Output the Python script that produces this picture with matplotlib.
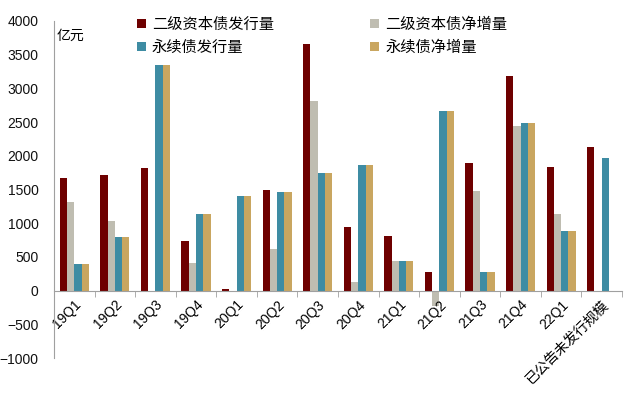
import matplotlib
matplotlib.use("Agg")
import matplotlib.pyplot as plt
import numpy as np

categories = ["19Q1", "19Q2", "19Q3", "19Q4", "20Q1", "20Q2", "20Q3", "20Q4",
              "21Q1", "21Q2", "21Q3", "21Q4", "22Q1", "已公告未发行规模"]
tier2_issue = [1670, 1720, 1820, 730, 30, 1500, 3660, 940, 810, 280, 1890, 3180, 1840, 2130]
tier2_net = [1310, 1040, -10, 410, 0, 610, 2810, 130, 440, -230, 1480, 2440, 1130, np.nan]
perp_issue = [400, 800, 3350, 1140, 1410, 1460, 1740, 1870, 440, 2660, 270, 2480, 880, 1970]
perp_net = [400, 800, 3350, 1140, 1410, 1460, 1740, 1870, 440, 2660, 270, 2480, 880, np.nan]
series_names = ["二级资本债发行量", "二级资本债净增量", "永续债发行量", "永续债净增量"]
yticks = [-1000, -500, 0, 500, 1000, 1500, 2000, 2500, 3000, 3500, 4000]

colors = ["#6E0000", "#BFBDB1", "#3E8CA3", "#C9A660"]

plt.rcParams['font.family'] = ['Liberation Sans', 'Noto Sans CJK SC', 'DejaVu Sans']

fig = plt.figure(figsize=(6.4, 3.96), dpi=100)
ax = fig.add_axes([54/640, 1-358/396, (622-54)/640, (358-21)/396])

for s in ['top', 'right']:
    ax.spines[s].set_visible(False)
ax.spines['bottom'].set_position(('data', 0))
ax.spines['bottom'].set_color('#A0A0A0')
ax.spines['left'].set_color('#A0A0A0')

x = np.arange(len(categories)) + 0.5
w = 0.18
data = [tier2_issue, tier2_net, perp_issue, perp_net]
handles = []
for k, (vals, c, name) in enumerate(zip(data, colors, series_names)):
    b = ax.bar(x + (k - 1.5) * w, vals, width=w, color=c, label=name, linewidth=0)
    handles.append(b)

ax.set_xlim(0, len(categories))
ax.set_ylim(-1000, 4000)
ax.set_yticks(yticks)
ax.tick_params(axis='y', length=0, pad=11, labelsize=10, labelcolor='#111111')

# category labels on major ticks (centres), boundary marks on minor ticks
ax.tick_params(axis='x', which='major', length=0, pad=5)
ax.tick_params(axis='x', which='minor', length=4, direction='out', color='#A0A0A0')
ax.set_xticks(np.arange(len(categories) + 1), minor=True)
ax.set_xticks(x)
ax.set_xticklabels(categories, fontsize=10, rotation=45, ha='right', va='top',
                   rotation_mode='anchor',
                   fontfamily=['Liberation Sans', 'Noto Sans CJK SC'])

ax.text(0.005, 0.955, "亿元", transform=ax.transAxes, fontsize=10,
        fontfamily=['Noto Sans CJK SC'], va='center', ha='left')

order = [handles[0], handles[2], handles[1], handles[3]]
labels = [series_names[0], series_names[2], series_names[1], series_names[3]]
leg = ax.legend(order, labels, ncol=2, frameon=False,
                loc='upper left', bbox_to_anchor=(123/640, 1 - 2/396),
                bbox_transform=fig.transFigure,
                prop={'family': ['Noto Sans CJK SC'], 'size': 11},
                handlelength=0.6, handleheight=0.6, handletextpad=0.4,
                columnspacing=6.3, labelspacing=0.4)

fig.savefig("out.png", dpi=100)
